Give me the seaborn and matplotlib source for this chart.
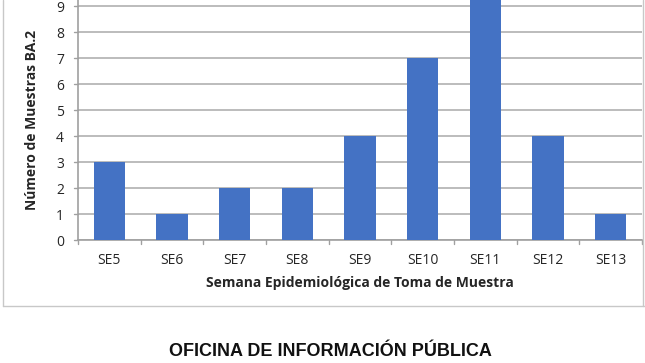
import matplotlib
matplotlib.use("Agg")
import matplotlib.pyplot as plt
import seaborn as sns
import pandas as pd
from matplotlib.lines import Line2D

semanas = ["SE5", "SE6", "SE7", "SE8", "SE9", "SE10", "SE11", "SE12", "SE13"]
muestras = [3, 1, 2, 2, 4, 7, 10, 4, 1]

df = pd.DataFrame({"semana": semanas, "muestras": muestras})

sns.set_style("white")
plt.rcParams['font.family'] = ['Open Sans', 'DejaVu Sans']

fig = plt.figure(figsize=(6.45, 3.63), dpi=100)
ax = fig.add_axes([78 / 645, 1 - 240 / 363, 564 / 645, 240 / 363])

sns.barplot(data=df, x="semana", y="muestras", color="#4472C4", width=0.5,
            saturation=1, linewidth=0, ax=ax, zorder=3)

ax.set_ylim(0, 240 / 26)
ax.set_xlim(-0.5, len(semanas) - 0.5)
ax.set_yticks(range(0, 10))
ax.yaxis.grid(True, color="#b0b0b0", linewidth=1.2, zorder=0)
ax.set_axisbelow(True)

for s in ["top", "right"]:
    ax.spines[s].set_visible(False)
ax.spines["left"].set_color("#a0a0a0")
ax.spines["bottom"].set_color("#a0a0a0")
ax.spines["left"].set_linewidth(1.2)
ax.spines["bottom"].set_linewidth(1.2)

ax.tick_params(axis="x", length=0, pad=9, labelsize=10)
ax.tick_params(axis="y", length=0, pad=10, labelsize=10)
# tick marks between categories
for b in range(len(semanas) + 1):
    ax.plot([b - 0.5, b - 0.5], [0, -0.15], color="#a0a0a0", lw=1, clip_on=False)
for t in range(0, 10):
    ax.plot([-0.5, -0.56], [t, t], color="#a0a0a0", lw=1, clip_on=False)

ax.set_xlabel("Semana Epidemiológica de Toma de Muestra", fontsize=10,
              fontweight="bold", labelpad=6)
ax.set_ylabel("Número de Muestras BA.2", fontsize=10, fontweight="bold", labelpad=12)

# chart frame
fig.add_artist(Line2D([3 / 645, 3 / 645], [1, 1 - 306 / 363],
                      transform=fig.transFigure, color="#c8c8c8", lw=1))
fig.add_artist(Line2D([3 / 645, 1], [1 - 306 / 363, 1 - 306 / 363],
                      transform=fig.transFigure, color="#c8c8c8", lw=1))
fig.add_artist(Line2D([643 / 645, 643 / 645], [1, 1 - 306 / 363],
                      transform=fig.transFigure, color="#c8c8c8", lw=1))

fig.text(330 / 645, 1 - 352 / 363, "OFICINA DE INFORMACIÓN PÚBLICA",
         ha="center", va="center", fontsize=13, fontweight="bold",
         family=["Liberation Sans", "DejaVu Sans"], color="#111111")

fig.savefig("out.png", dpi=100)
